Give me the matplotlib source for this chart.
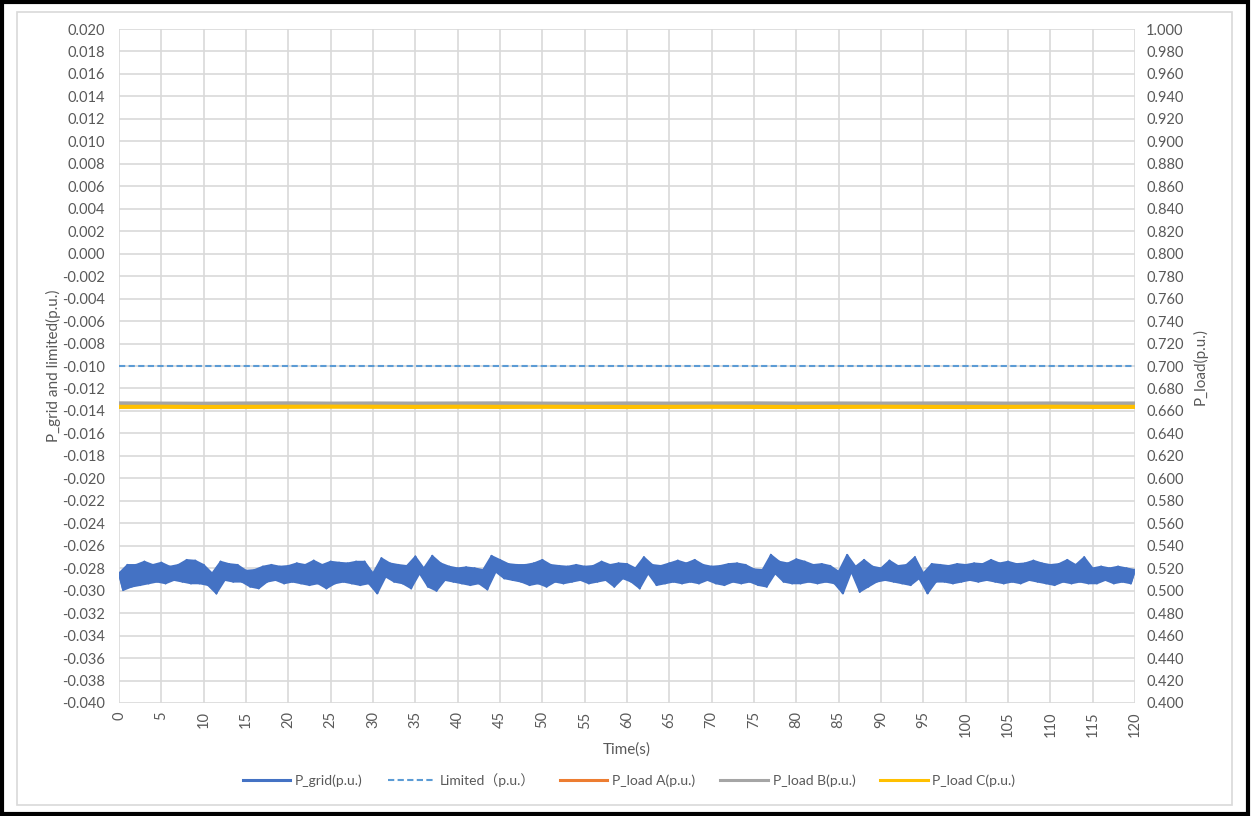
import numpy as np
import matplotlib

matplotlib.use("Agg")

import matplotlib.pyplot as plt
from matplotlib.lines import Line2D
from matplotlib.patches import Rectangle
from matplotlib.ticker import FuncFormatter, MultipleLocator

plt.rcParams["font.family"] = ["Lato", "Noto Sans CJK SC", "DejaVu Sans"]
plt.rcParams["axes.unicode_minus"] = False

# P_grid sampled every 0.5 s (0 .. 120 s), read off the chart
# (the signal is very noisy, so it alternates between band top and band bottom)
time_grid = np.arange(0, 120.5, 0.5)
p_grid = [
    -0.02846, -0.02994, -0.02771, -0.02964, -0.02771, -0.02950, -0.02742, -0.02935, -0.02771, -0.02920,
    -0.02751, -0.02935, -0.02786, -0.02905, -0.02771, -0.02920, -0.02727, -0.02935, -0.02733, -0.02935,
    -0.02771, -0.02950, -0.02846, -0.03024, -0.02742, -0.02905, -0.02763, -0.02920, -0.02771, -0.02920,
    -0.02822, -0.02964, -0.02816, -0.02979, -0.02786, -0.02920, -0.02771, -0.02905, -0.02786, -0.02935,
    -0.02780, -0.02920, -0.02757, -0.02935, -0.02771, -0.02950, -0.02733, -0.02935, -0.02771, -0.02979,
    -0.02742, -0.02935, -0.02751, -0.02920, -0.02757, -0.02935, -0.02742, -0.02950, -0.02742, -0.02935,
    -0.02846, -0.03024, -0.02712, -0.02875, -0.02757, -0.02920, -0.02771, -0.02935, -0.02780, -0.02979,
    -0.02697, -0.02846, -0.02801, -0.02964, -0.02691, -0.03000, -0.02757, -0.02905, -0.02786, -0.02920,
    -0.02801, -0.02935, -0.02792, -0.02950, -0.02801, -0.02935, -0.02816, -0.02988, -0.02691, -0.02831,
    -0.02727, -0.02890, -0.02763, -0.02905, -0.02771, -0.02920, -0.02771, -0.02950, -0.02757, -0.02935,
    -0.02727, -0.02964, -0.02771, -0.02920, -0.02780, -0.02935, -0.02786, -0.02920, -0.02771, -0.02905,
    -0.02786, -0.02935, -0.02780, -0.02920, -0.02742, -0.02905, -0.02771, -0.02964, -0.02757, -0.02890,
    -0.02763, -0.02920, -0.02801, -0.02979, -0.02703, -0.02846, -0.02771, -0.02950, -0.02780, -0.02935,
    -0.02757, -0.02920, -0.02733, -0.02935, -0.02757, -0.02920, -0.02727, -0.02935, -0.02771, -0.02905,
    -0.02786, -0.02935, -0.02780, -0.02950, -0.02763, -0.02920, -0.02757, -0.02935, -0.02771, -0.02920,
    -0.02810, -0.02950, -0.02816, -0.02964, -0.02682, -0.02846, -0.02742, -0.02920, -0.02757, -0.02935,
    -0.02721, -0.02935, -0.02742, -0.02920, -0.02771, -0.02935, -0.02763, -0.02920, -0.02780, -0.02935,
    -0.02831, -0.03024, -0.02682, -0.02831, -0.02786, -0.03009, -0.02727, -0.02964, -0.02786, -0.02920,
    -0.02801, -0.02905, -0.02733, -0.02920, -0.02780, -0.02935, -0.02771, -0.02950, -0.02703, -0.02890,
    -0.02846, -0.03024, -0.02763, -0.02920, -0.02771, -0.02920, -0.02780, -0.02935, -0.02763, -0.02920,
    -0.02771, -0.02905, -0.02757, -0.02920, -0.02763, -0.02905, -0.02727, -0.02920, -0.02757, -0.02935,
    -0.02742, -0.02920, -0.02763, -0.02935, -0.02757, -0.02905, -0.02733, -0.02920, -0.02757, -0.02935,
    -0.02771, -0.02950, -0.02763, -0.02920, -0.02727, -0.02935, -0.02771, -0.02920, -0.02703, -0.02935,
    -0.02801, -0.02935, -0.02786, -0.02905, -0.02801, -0.02935, -0.02786, -0.02920, -0.02801, -0.02935,
    -0.02816,
]

limited = [-0.010, -0.010]
time_limit = [0, 120]

# loads every 5 s (0 .. 120 s)
time_load = np.arange(0, 121, 5)
p_load_a = [0.6652, 0.6650, 0.6649, 0.6651, 0.6650, 0.6651, 0.6649, 0.6650, 0.6651, 0.6650,
            0.6649, 0.6650, 0.6651, 0.6650, 0.6649, 0.6650, 0.6651, 0.6650, 0.6650, 0.6649,
            0.6651, 0.6650, 0.6649, 0.6650, 0.6650]
p_load_b = [0.6667, 0.6665, 0.6664, 0.6666, 0.6667, 0.6665, 0.6666, 0.6665, 0.6666, 0.6667,
            0.6665, 0.6664, 0.6666, 0.6665, 0.6666, 0.6667, 0.6665, 0.6666, 0.6665, 0.6666,
            0.6667, 0.6665, 0.6666, 0.6665, 0.6666]
p_load_c = [0.6636, 0.6637, 0.6635, 0.6636, 0.6637, 0.6638, 0.6637, 0.6636, 0.6637, 0.6636,
            0.6637, 0.6636, 0.6635, 0.6636, 0.6637, 0.6636, 0.6635, 0.6636, 0.6637, 0.6636,
            0.6635, 0.6636, 0.6637, 0.6636, 0.6636]

text_color = "#595959"
grid_color = "#D9D9D9"
c_grid = "#4472C4"

fig = plt.figure(figsize=(12.51, 8.16), dpi=100)
ax = fig.add_axes([119 / 1251, 1 - 703 / 816, (1135 - 119) / 1251, (703 - 29) / 816])
ax2 = ax.twinx()

# the noisy P_grid trace renders as a solid band: fill between its upper and lower samples
t_hi, t_lo = time_grid[0::2], time_grid[1::2]
v_hi, v_lo = np.asarray(p_grid[0::2]), np.asarray(p_grid[1::2])
ax.fill(np.concatenate([t_hi, t_lo[::-1]]), np.concatenate([v_hi, v_lo[::-1]]),
        fc=c_grid, ec=c_grid, lw=1.3, zorder=3)
ax.plot(time_grid, p_grid, color=c_grid, lw=1.6, zorder=3)
ax.plot(time_limit, limited, color="#5B9BD5", lw=1.5, ls=(0, (3, 1.6)), zorder=3)
ax2.plot(time_load, p_load_a, color="#ED7D31", lw=3)
ax2.plot(time_load, p_load_b, color="#A5A5A5", lw=3)
ax2.plot(time_load, p_load_c, color="#FFC000", lw=3)

ax.set_xlim(0, 120)
ax.set_ylim(-0.040, 0.020)
ax2.set_ylim(0.400, 1.000)
ax.xaxis.set_major_locator(MultipleLocator(5))
ax.yaxis.set_major_locator(MultipleLocator(0.002))
ax2.yaxis.set_major_locator(MultipleLocator(0.020))
ax.yaxis.set_major_formatter(FuncFormatter(lambda v, p: f"{v:.3f}"))
ax2.yaxis.set_major_formatter(FuncFormatter(lambda v, p: f"{v:.3f}"))

ax.grid(True, color=grid_color, lw=1.2, zorder=0)
ax.set_axisbelow(True)
for a in (ax, ax2):
    for s in a.spines.values():
        s.set_visible(False)
    a.tick_params(length=0, labelsize=10.5, colors=text_color)
ax.tick_params(axis="x", rotation=90, pad=6)
ax.tick_params(axis="y", pad=10)
ax2.tick_params(axis="y", pad=8)

ax.set_xlabel("Time(s)", fontsize=11, color=text_color, labelpad=4)
ax.set_ylabel("P_grid and limited(p.u.)", fontsize=11, color=text_color, labelpad=1)
ax2.set_ylabel("P_load(p.u.)", fontsize=11, color=text_color, rotation=90, labelpad=6)

handles = [
    Line2D([], [], color=c_grid, lw=2.2, label="P_grid(p.u.)"),
    Line2D([], [], color="#5B9BD5", lw=1.5, ls=(0, (3, 1.6)), label="Limited（p.u.）"),
    Line2D([], [], color="#ED7D31", lw=2.2, label="P_load A(p.u.)"),
    Line2D([], [], color="#A5A5A5", lw=2.2, label="P_load B(p.u.)"),
    Line2D([], [], color="#FFC000", lw=2.2, label="P_load C(p.u.)"),
]
fig.legend(handles=handles, loc="center", bbox_to_anchor=(0.503, 1 - 780 / 816),
           ncol=5, frameon=False, fontsize=10, handlelength=3.4, handletextpad=0.35,
           columnspacing=1.8, labelcolor=text_color)

# chart area border and outer frame
fig.add_artist(Rectangle((17 / 1251, 1 - 805 / 816), (1232 - 17) / 1251, (805 - 12) / 816,
                         transform=fig.transFigure, fill=False, ec=grid_color, lw=1.2))
fig.add_artist(Rectangle((0.0015, 0.002), 0.996, 0.995, transform=fig.transFigure,
                         fill=False, ec="black", lw=3))

fig.savefig("out.png", dpi=100)
